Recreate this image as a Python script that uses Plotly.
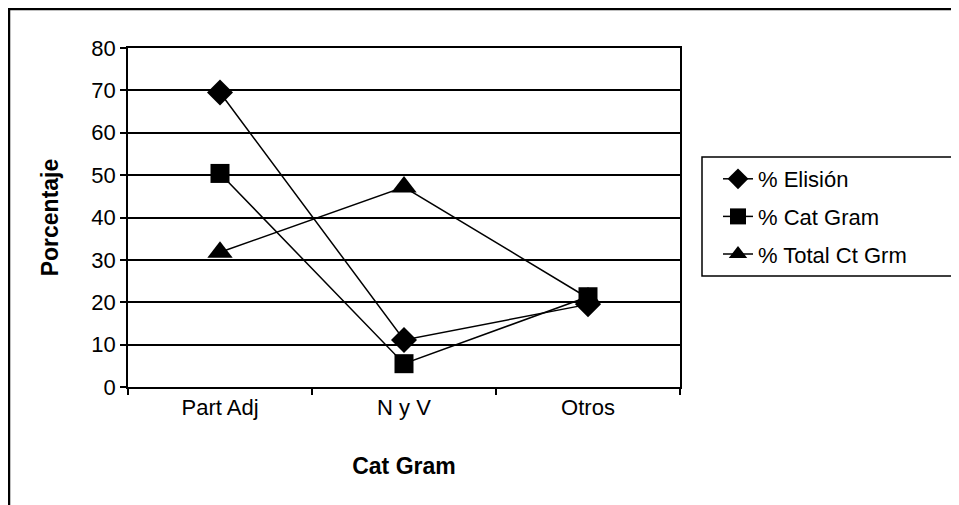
import plotly.graph_objects as go

categories = ["Part Adj", "N y V", "Otros"]
elision = [69.5, 11.1, 19.5]
cat_gram = [50.4, 5.5, 21.3]
total_ct_grm = [31.8, 47.2, 21.0]
y_ticks = [0, 10, 20, 30, 40, 50, 60, 70, 80]

FONT = "Liberation Sans, Arial, sans-serif"
FS = 22

fig = go.Figure()
series = [
    ("% Elisión", elision, "diamond", 20),
    ("% Cat Gram", cat_gram, "square", 19),
    ("% Total Ct Grm", total_ct_grm, "triangle-up", 22),
]
for i, (name, vals, sym, size) in enumerate(series):
    fig.add_trace(go.Scatter(
        x=categories, y=vals, name=name, mode="lines+markers",
        line=dict(color="black", width=1.5),
        marker=dict(symbol=sym, size=size, color="black"),
        legendgroup=f"g{i}",
    ))

L, T, R, B = 120, 40, 287, 126
PW = 959 - L - R
PH = 505 - T - B

def px_x(x):  # page x -> paper fraction
    return (x - 8 - L) / PW

def px_y(y):  # page y -> paper fraction
    return (505 - B - (y - 8)) / PH

fig.update_layout(
    width=959, height=505,
    margin=dict(l=L, r=R, t=T, b=B),
    paper_bgcolor="white", plot_bgcolor="white",
    font=dict(family=FONT, size=FS, color="black"),
    showlegend=True,
    legend=dict(
        x=px_x(718), y=px_y(158), xanchor="left", yanchor="top",
        borderwidth=0,
        font=dict(family=FONT, size=FS, color="black"),
        tracegroupgap=6,
        bgcolor="rgba(0,0,0,0)",
    ),
    xaxis=dict(
        type="category", tickson="boundaries",
        ticks="outside", ticklen=6, tickcolor="black", tickwidth=1.5,
        tickfont=dict(family=FONT, size=FS, color="black"),
        showline=True, linecolor="black", linewidth=1.5, mirror=True,
        showgrid=False,
        title=dict(text="<b>Cat Gram</b>", font=dict(family=FONT, size=23), standoff=39),
        range=[-0.5, 2.5],
    ),
    yaxis=dict(
        range=[0, 80], tickvals=y_ticks,
        ticks="outside", ticklen=6, tickcolor="black", tickwidth=1.5,
        tickfont=dict(family=FONT, size=FS, color="black"),
        showline=True, linecolor="black", linewidth=1.5, mirror=True,
        showgrid=True, gridcolor="black", gridwidth=1.5,
        zeroline=False,
        title=dict(text="<b>Porcentaje</b>", font=dict(family=FONT, size=23), standoff=26),
    ),
    shapes=[
        dict(
            type="rect", xref="paper", yref="paper",
            x0=(-L + 1) / PW, x1=(959 - L + 40) / PW,
            y0=-(B + 40) / PH, y1=1 + (T - 1) / PH,
            line=dict(color="black", width=2.5), fillcolor="rgba(0,0,0,0)", layer="below",
        ),
        dict(
            type="rect", xref="paper", yref="paper",
            x0=px_x(702), x1=px_x(953), y0=px_y(276), y1=px_y(157),
            line=dict(color="black", width=1.5), fillcolor="rgba(0,0,0,0)", layer="below",
        ),
    ],
)

fig.write_html("out.html")
